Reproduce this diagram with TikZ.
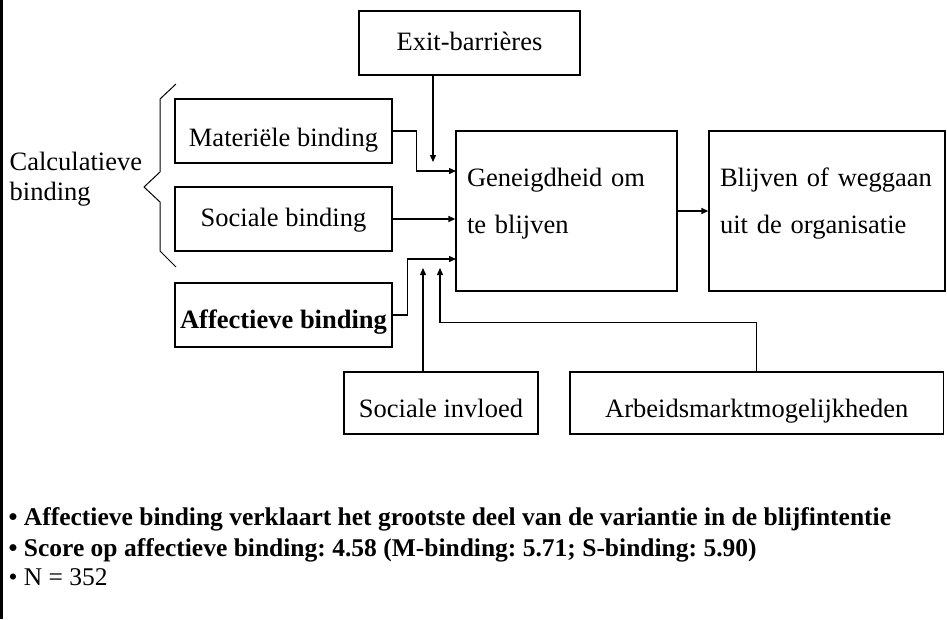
\documentclass[tikz,border=0pt]{standalone}
\usepackage{fontspec}
\setmainfont{Liberation Serif}
\usetikzlibrary{arrows.meta}
\tikzset{>={Triangle[length=7pt,width=6pt]}}
\frenchspacing

\begin{document}
\begin{tikzpicture}[x=1pt, y=-1pt, line width=1.3pt,
	font=\fontsize{26.5}{30}\selectfont,
	blok/.style={draw, inner sep=0pt, text height=#1, text depth=0pt},
	groot/.style={draw, inner xsep=11pt, inner ysep=0pt, align=left,
		text height=55pt, text depth=105pt, font=\fontsize{26.5}{47}\selectfont},
	noot/.style={anchor=base west, inner sep=0pt, font=\fontsize{25.5}{30}\selectfont}]
	\useasboundingbox (0,0) rectangle (947,619);
	\draw[line width=2.5pt] (1.25,0) -- (1.25,619);

	\node[blok=14pt, minimum width=221pt, minimum height=64pt] (exit) at (469.5,43) {Exit-barrières};
	\node[blok=30pt, minimum width=217pt, minimum height=64pt] (mat) at (283.5,131) {Materiële binding};
	\node[blok=14pt, minimum width=217pt, minimum height=64pt] (soc) at (283.5,219) {Sociale binding};
	\node[blok=26pt, minimum width=217pt, minimum height=64pt] (aff) at (283.5,315) {\textbf{Affectieve binding}};
	\node[groot, text width=199pt] (gen) at (566.5,211) {Geneigdheid om\\te blijven};
	\node[groot, text width=214pt] (blijf) at (827,211) {Blijven of weggaan\\uit de organisatie};
	\node[blok=28pt, minimum width=194pt, minimum height=62pt] (invl) at (441,403) {Sociale invloed};
	\node[blok=28pt, minimum width=373.5pt, minimum height=62pt] (arb) at (756.75,403) {Arbeidsmarktmogelijkheden};

	% accolade
	\node[anchor=north west, inner sep=0pt, text width=150pt, align=left, text height=20pt] (calc) at (9,150) {Calculatieve\\binding};
	\draw[line width=1pt] (176,84) -- (160,99) -- (160,172) -- (144,187) -- (160,202) -- (160,251) -- (176,267);

	\coordinate (exitEnd) at (433,162);
	\coordinate (inM) at (456,171);
	\coordinate (inA) at (456,259);
	\coordinate (invlEnd) at (423,268);
	\coordinate (arbEnd) at (440,268);

	\draw [->] (exitEnd |- exit.south) -- (exitEnd);
	\draw [->] (mat.east) -- ++(24,0) |- (inM);
	\draw [->] (soc.east) -- (soc.east -| gen.west);
	\draw [->] (aff.east) -- ++(15,0) |- (inA);
	\draw [->] (invlEnd |- invl.north) -- (invlEnd);
	\draw [->] (arb.north) -- ++(0,-49) -| (arbEnd);
	\draw [->] (gen.east) -- (blijf.west);

	\node[noot] (noot1) at (8,525) {\textbf{• Affectieve binding verklaart het grootste deel van de variantie in de blijfintentie}};
	\node[noot] (noot2) at (8,556) {\textbf{• Score op affectieve binding: 4.58 (M-binding: 5.71; S-binding: 5.90)}};
	\node[noot] (noot3) at (8,585) {• N = 352};
\end{tikzpicture}
\end{document}
